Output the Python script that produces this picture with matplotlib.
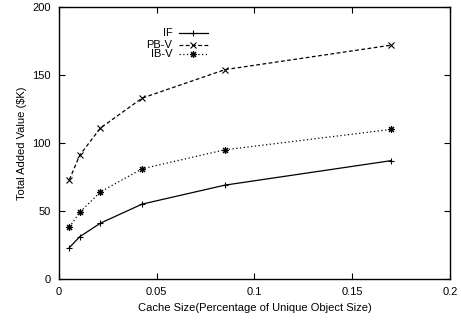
import matplotlib
matplotlib.use("Agg")
import matplotlib.pyplot as plt
from matplotlib.lines import Line2D

plt.rcParams["font.family"] = ["Liberation Sans", "DejaVu Sans"]

cache_size = [0.0053, 0.0106, 0.0212, 0.0425, 0.085, 0.17]
if_vals = [23, 31, 41, 55, 69, 87]
pbv_vals = [73, 91, 111, 133, 154, 172]
ibv_vals = [38, 49, 64, 81, 95, 110]

fig = plt.figure(figsize=(4.61, 3.22), dpi=100)
ax = fig.add_axes([0.128, 0.134, 0.848, 0.844])

styles = [
    ("IF", if_vals, "-", "+", 5),
    ("PB-V", pbv_vals, (0, (3, 2)), "x", 4),
    ("IB-V", ibv_vals, (0, (1, 2)), (8, 2, 0), 5),
]

for label, vals, ls, mk, ms in styles:
    ax.plot(cache_size, vals, color="black", lw=0.9, ls=ls,
            marker=mk, ms=ms, mew=0.8)

# gnuplot-style key: right-aligned labels, sample line with marker in middle
key_y = [0.903, 0.862, 0.826]
for (label, vals, ls, mk, ms), y in zip(styles, key_y):
    ax.text(0.29, y, label, transform=ax.transAxes, ha="right", va="center",
            fontsize=8)
    ax.add_line(Line2D([0.306, 0.381], [y, y], transform=ax.transAxes,
                       color="black", lw=0.9, ls=ls))
    ax.add_line(Line2D([0.343], [y], transform=ax.transAxes, color="black",
                       marker=mk, ms=ms, mew=0.8, ls="none"))

ax.set_xlim(0, 0.2)
ax.set_ylim(0, 200)
ax.set_xticks([0, 0.05, 0.1, 0.15, 0.2])
ax.set_xticklabels(["0", "0.05", "0.1", "0.15", "0.2"])
ax.set_yticks([0, 50, 100, 150, 200])
ax.tick_params(direction="in", top=True, right=True, labelsize=8,
               length=4, width=0.8, pad=6)
for s in ax.spines.values():
    s.set_linewidth(1.0)

ax.set_xlabel("Cache Size(Percentage of Unique Object Size)", fontsize=8)
ax.set_ylabel("Total Added Value ($K)", fontsize=8)

fig.savefig("out.png", dpi=100)
